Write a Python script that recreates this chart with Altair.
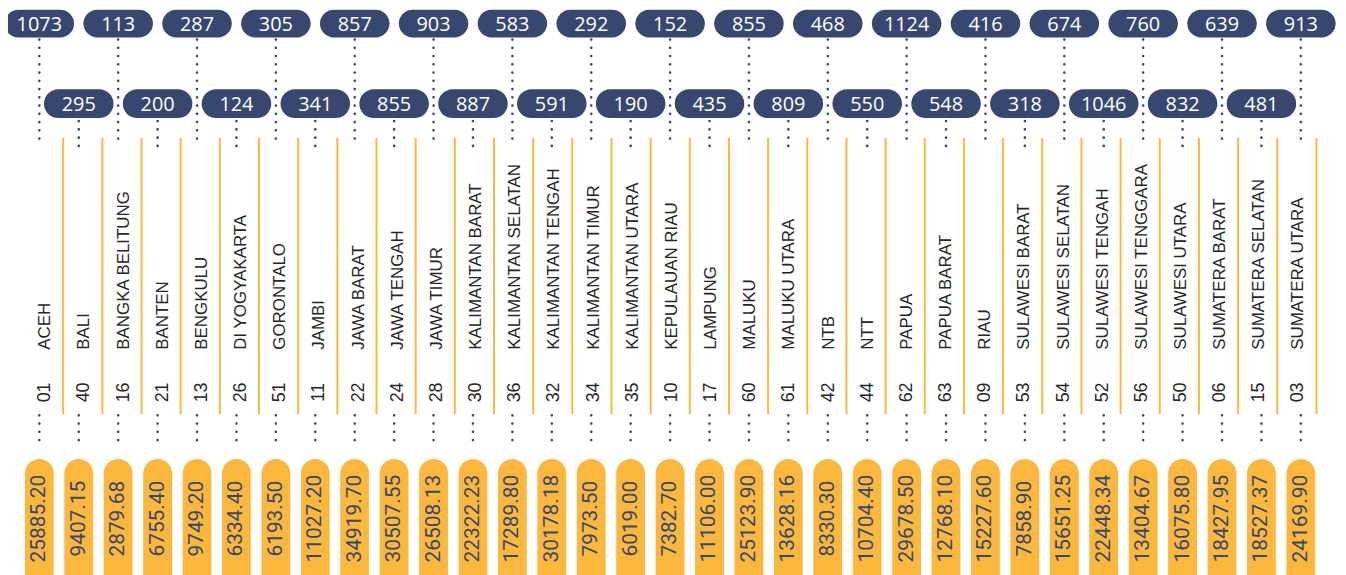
import altair as alt
import pandas as pd

names = ["ACEH", "BALI", "BANGKA BELITUNG", "BANTEN", "BENGKULU", "DI YOGYAKARTA",
         "GORONTALO", "JAMBI", "JAWA BARAT", "JAWA TENGAH", "JAWA TIMUR",
         "KALIMANTAN BARAT", "KALIMANTAN SELATAN", "KALIMANTAN TENGAH",
         "KALIMANTAN TIMUR", "KALIMANTAN UTARA", "KEPULAUAN RIAU", "LAMPUNG",
         "MALUKU", "MALUKU UTARA", "NTB", "NTT", "PAPUA", "PAPUA BARAT", "RIAU",
         "SULAWESI BARAT", "SULAWESI SELATAN", "SULAWESI TENGAH",
         "SULAWESI TENGGARA", "SULAWESI UTARA", "SUMATERA BARAT",
         "SUMATERA SELATAN", "SUMATERA UTARA"]
codes = ["01", "40", "16", "21", "13", "26", "51", "11", "22", "24", "28", "30",
         "36", "32", "34", "35", "10", "17", "60", "61", "42", "44", "62", "63",
         "09", "53", "54", "52", "56", "50", "06", "15", "03"]
top_values = [1073, 295, 113, 200, 287, 124, 305, 341, 857, 855, 903, 887, 583,
              591, 292, 190, 152, 435, 855, 809, 468, 550, 1124, 548, 416, 318,
              674, 1046, 760, 832, 639, 481, 913]
bottom_values = [25885.20, 9407.15, 2879.68, 6755.40, 9749.20, 6334.40, 6193.50,
                 11027.20, 34919.70, 30507.55, 26508.13, 22322.23, 17289.80,
                 30178.18, 7973.50, 6019.00, 7382.70, 11106.00, 25123.90,
                 13628.16, 8330.30, 10704.40, 29678.50, 12768.10, 15227.60,
                 7858.90, 15651.25, 22448.34, 13404.67, 16075.80, 18427.95,
                 18527.37, 24169.90]

NAVY = "#38476f"
ORANGE = "#fcb83c"

df = pd.DataFrame({
    "i": list(range(len(names))),
    "name": names,
    "code": codes,
    "top": top_values,
    "bottom": bottom_values,
})

W, H = 1338, 567
xscale = alt.Scale(domain=[-0.952, 33.008], nice=False, zero=False)

base = alt.Chart(df).transform_calculate(
    p="datum.i*1.0066-0.152",
    tl="datum.i*1.0066-0.152-0.888",
    tr="datum.i*1.0066-0.152+0.888",
    bl="datum.i*1.0066-0.152-0.368",
    br="datum.i*1.0066-0.152+0.368",
    sep="datum.i+0.457",
    row="datum.i % 2",
    btxt="format(datum.bottom, '.2f')",
)

X = lambda f: alt.X(f"{f}:Q", scale=xscale, axis=None)

even = base.transform_filter("datum.row == 0")
odd = base.transform_filter("datum.row == 1")

dot_style = dict(color=NAVY, strokeWidth=2.6, strokeDash=[0.1, 8.2], strokeCap="round")

dots_even = even.mark_rule(**dot_style).encode(x=X("p"), y=alt.value(30), y2=alt.value(137))
dots_odd = odd.mark_rule(**dot_style).encode(x=X("p"), y=alt.value(112), y2=alt.value(137))
dots_bottom = base.mark_rule(**dot_style).encode(x=X("p"), y=alt.value(408), y2=alt.value(440))

seps = base.mark_rule(color=ORANGE, strokeWidth=2).encode(
    x=X("sep"), y=alt.value(129), y2=alt.value(407))

pill_even = even.mark_rect(color=NAVY, cornerRadius=14).encode(
    x=X("tl"), x2="tr:Q", y=alt.value(0), y2=alt.value(28))
pill_odd = odd.mark_rect(color=NAVY, cornerRadius=14.5).encode(
    x=X("tl"), x2="tr:Q", y=alt.value(80), y2=alt.value(109))
pill_bottom = base.mark_rect(color=ORANGE, cornerRadius=14.5).encode(
    x=X("bl"), x2="br:Q", y=alt.value(452), y2=alt.value(600))

txt_top_even = even.mark_text(font="Open Sans", fontSize=20, color="white",
                              baseline="middle", align="center").encode(
    x=X("p"), y=alt.value(15), text="top:N")
txt_top_odd = odd.mark_text(font="Open Sans", fontSize=20, color="white",
                            baseline="middle", align="center").encode(
    x=X("p"), y=alt.value(95.5), text="top:N")

txt_name = base.mark_text(font="Arial, Liberation Sans, sans-serif", fontSize=17,
                          color="#262626", angle=270, align="left",
                          baseline="middle").encode(
    x=X("i"), y=alt.value(342), text="name:N")
txt_code = base.mark_text(font="Arial, Liberation Sans, sans-serif", fontSize=18,
                          color="#262626", angle=270, align="center",
                          baseline="middle").encode(
    x=X("i"), y=alt.value(385), text="code:N")

txt_bottom = base.mark_text(font="Roboto", fontSize=21, color=NAVY,
                            angle=270, align="center", baseline="middle").encode(
    x=X("p"), y=alt.value(512), text="btxt:N")

chart = alt.layer(
    dots_even, dots_odd, dots_bottom, seps,
    pill_even, pill_odd, pill_bottom,
    txt_top_even, txt_top_odd, txt_name, txt_code, txt_bottom,
).properties(
    width=W, height=H,
    autosize=alt.AutoSizeParams(type="none"),
    padding=0,
).configure_view(stroke=None)

chart.save("out.html", embed_options={"renderer": "svg", "actions": False})
